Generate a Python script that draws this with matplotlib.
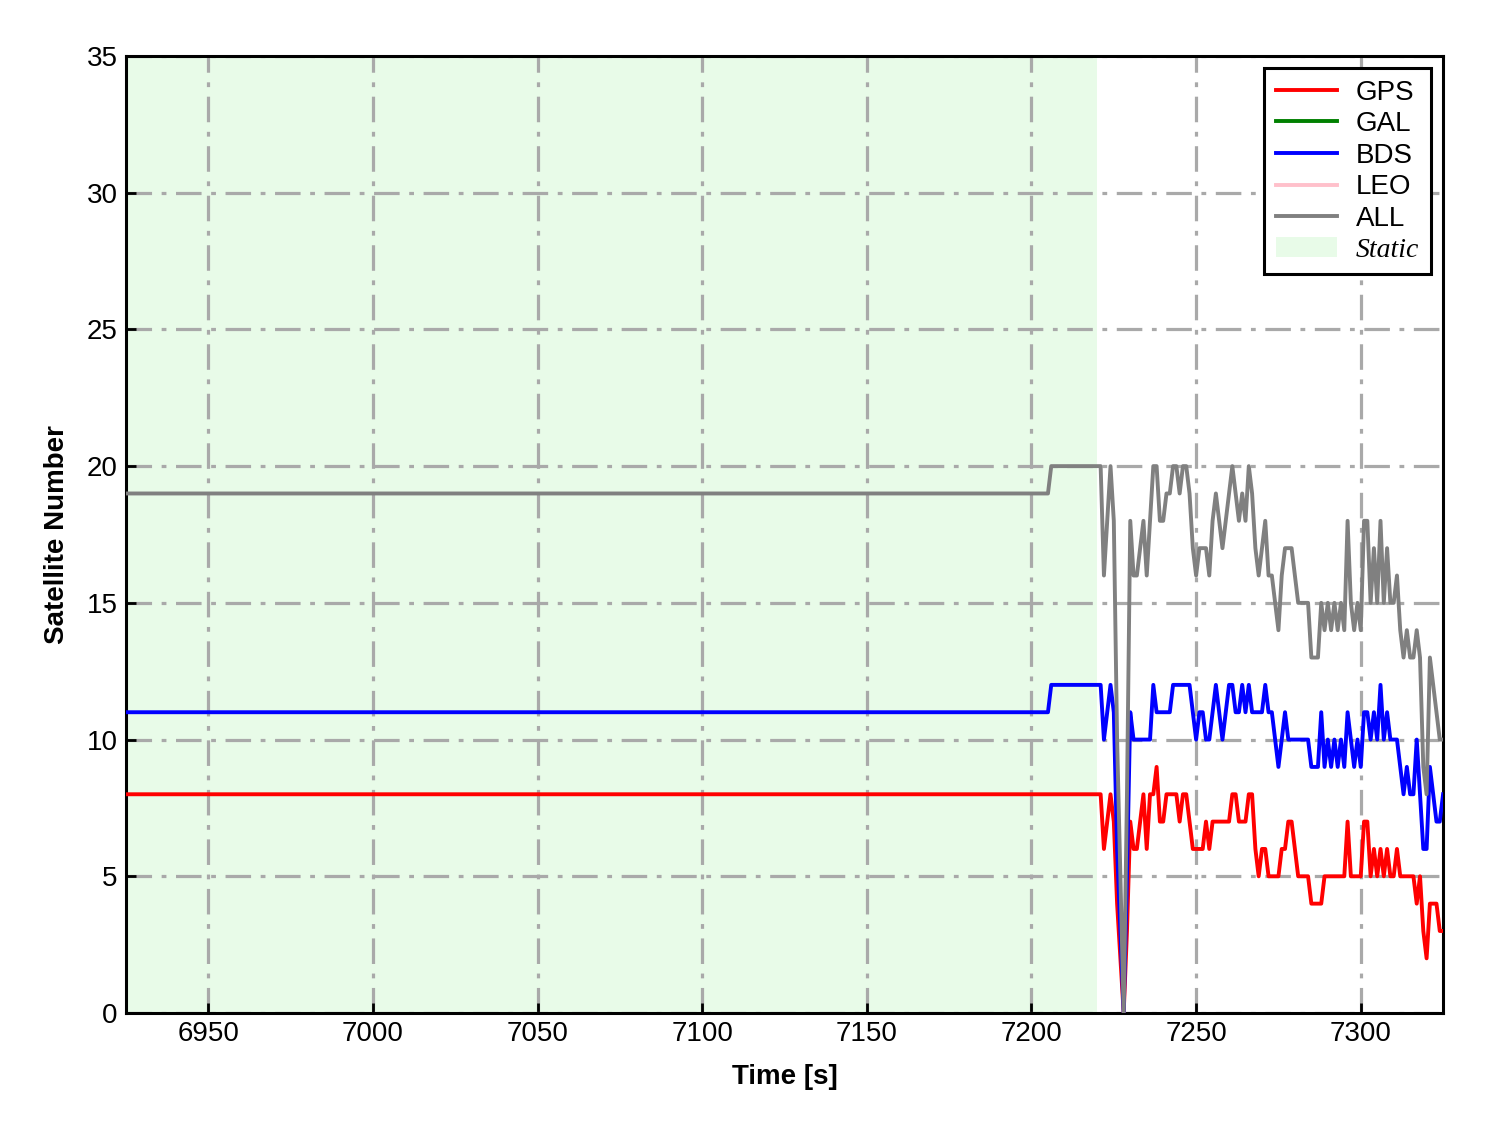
import numpy as np
import matplotlib
matplotlib.use('Agg')
import matplotlib.pyplot as plt
from matplotlib.patches import Patch
from matplotlib.lines import Line2D

plt.rcParams['font.family'] = ['Liberation Sans', 'DejaVu Sans']

# epochs: static part given by its breakpoints, then 1 s samples
time = [6925, 7205, 7206] + list(range(7220, 7326))

gps = [8, 8, 8,
       8, 8, 6, 7, 8, 7, 4, 2, 0, 3,
       7, 6, 6, 7, 8, 6, 8, 8, 9, 7,
       7, 8, 8, 8, 8, 7, 8, 8, 7, 6,
       6, 6, 6, 7, 6, 7, 7, 7, 7, 7,
       7, 8, 8, 7, 7, 7, 8, 8, 6, 5,
       6, 6, 5, 5, 5, 5, 6, 6, 7, 7,
       6, 5, 5, 5, 5, 4, 4, 4, 4, 5,
       5, 5, 5, 5, 5, 5, 7, 5, 5, 5,
       5, 7, 7, 5, 6, 5, 6, 5, 6, 5,
       5, 6, 5, 5, 5, 5, 5, 4, 5, 3,
       2, 4, 4, 4, 3, 3]

bds = [11, 11, 12,
       12, 12, 10, 11, 12, 11, 6, 3, 0, 5,
       11, 10, 10, 10, 10, 10, 10, 12, 11, 11,
       11, 11, 11, 12, 12, 12, 12, 12, 12, 11,
       10, 11, 11, 10, 10, 11, 12, 11, 10, 11,
       12, 12, 11, 11, 12, 11, 12, 11, 11, 11,
       11, 12, 11, 11, 10, 9, 10, 11, 10, 10,
       10, 10, 10, 10, 10, 9, 9, 9, 11, 9,
       10, 9, 10, 9, 10, 9, 11, 10, 9, 10,
       9, 11, 11, 10, 11, 10, 12, 10, 11, 10,
       10, 10, 9, 8, 9, 8, 8, 10, 8, 6,
       6, 9, 8, 7, 7, 8]

all_sat = [19, 19, 20,
           20, 20, 16, 18, 20, 18, 10, 5, 0, 8,
           18, 16, 16, 17, 18, 16, 18, 20, 20, 18,
           18, 19, 19, 20, 20, 19, 20, 20, 19, 17,
           16, 17, 17, 17, 16, 18, 19, 18, 17, 18,
           19, 20, 19, 18, 19, 18, 20, 19, 17, 16,
           17, 18, 16, 16, 15, 14, 16, 17, 17, 17,
           16, 15, 15, 15, 15, 13, 13, 13, 15, 14,
           15, 14, 15, 14, 15, 14, 18, 15, 14, 15,
           14, 18, 18, 15, 17, 15, 18, 15, 17, 15,
           15, 16, 14, 13, 14, 13, 13, 14, 13, 9,
           8, 13, 12, 11, 10, 10]

# no GAL / LEO observations in this span
gal = []
leo = []

static_start = 6925
static_end = 7220
xlim = (6925, 7325)
ylim = (0, 35)
xticks = [6950, 7000, 7050, 7100, 7150, 7200, 7250, 7300]
yticks = [0, 5, 10, 15, 20, 25, 30, 35]

fig = plt.figure(figsize=(14.88, 11.33), dpi=100)
ax = fig.add_axes([0.0847, 0.1059, 0.8851, 0.8447])

ax.axvspan(static_start, static_end, color='lightgreen', alpha=0.2, lw=0, zorder=0)

lw = 2.8
ax.plot(time, gps, color='red', lw=lw, zorder=3)
ax.plot(gal, gal, color='green', lw=lw, zorder=3)
ax.plot(time, bds, color='blue', lw=lw, zorder=3)
ax.plot(leo, leo, color='pink', lw=lw, zorder=3)
ax.plot(time, all_sat, color='gray', lw=lw, zorder=4)

ax.set_xlim(*xlim)
ax.set_ylim(*ylim)
ax.set_xticks(xticks)
ax.set_yticks(yticks)
ax.grid(True, color='darkgray', lw=2.3, linestyle=(0, (8, 3, 1.5, 3)), zorder=1)

ax.tick_params(direction='in', length=7, width=2, labelsize=20, pad=6)
for sp in ax.spines.values():
    sp.set_linewidth(2.2)

ax.set_xlabel('Time [s]', fontsize=20, fontweight='bold', labelpad=12)
ax.set_ylabel('Satellite Number', fontsize=20, fontweight='bold', labelpad=12)

handles = [Line2D([], [], color='red', lw=lw),
           Line2D([], [], color='green', lw=lw),
           Line2D([], [], color='blue', lw=lw),
           Line2D([], [], color='pink', lw=lw),
           Line2D([], [], color='gray', lw=lw),
           Patch(facecolor='lightgreen', alpha=0.2, edgecolor='none')]
labels = ['GPS', 'GAL', 'BDS', 'LEO', 'ALL', 'Static']
leg = ax.legend(handles, labels, loc='upper right', fontsize=20, fancybox=False,
                framealpha=1, edgecolor='black', handlelength=2.2,
                labelspacing=0.2, borderaxespad=0.45, handletextpad=0.7,
                borderpad=0.4)
leg.get_frame().set_linewidth(2.2)
st = leg.get_texts()[-1]
st.set_fontfamily('Liberation Serif')
st.set_fontstyle('italic')

fig.savefig('out.png', dpi=100)
